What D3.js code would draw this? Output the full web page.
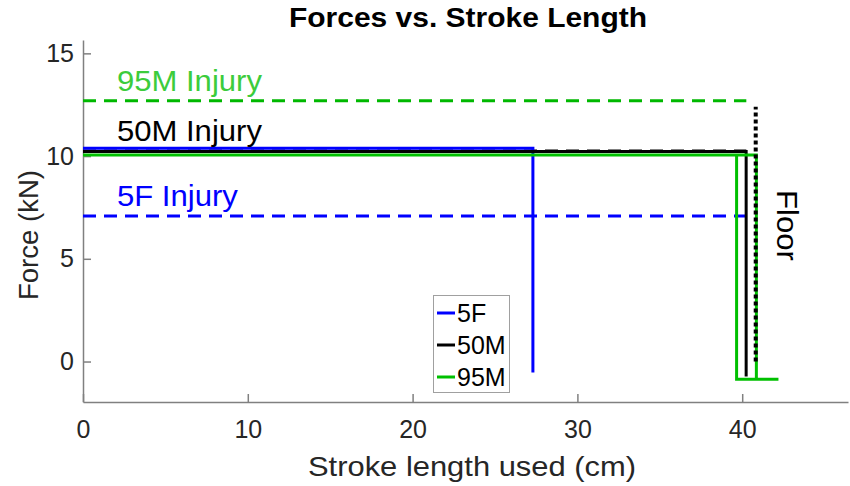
<!DOCTYPE html>
<html>
<head>
<meta charset="utf-8">
<script src="https://cdn.jsdelivr.net/npm/d3@7"></script>
<style>
  body { margin: 0; background: #fff; }
  text { font-family: "Liberation Sans", Arial, sans-serif; }
</style>
</head>
<body>
<svg id="chart" width="850" height="486"></svg>
<script>
// values (x = stroke used in cm, y = force in kN)
const seriesNames = ['5F', '50M', '95M'];
const seriesColors = ['#0000ff', '#000000', '#00c000'];
const force5F = [[0, 10.38], [27.3, 10.38], [27.3, -0.54]];
const force50M = [[0, 10.22], [40.24, 10.22], [40.24, -0.73]];
const force95M = [[0, 10.05], [40.86, 10.05], [40.86, -0.86], [42.2, -0.86], [39.66, -0.86], [39.66, 10.05]];

const injuryNames = ['95M Injury', '50M Injury', '5F Injury'];
const injuryLevels = [12.69, 10.25, 7.08];
const injuryLineColors = ['#00b800', '#000000', '#0000ff'];
const injuryTextColors = ['#3ccc3c', '#000000', '#0000ff'];
const injuryEnd = 40.25;

const floorX = 40.82;
const floorTop = 12.4;

const xTicks = [0, 10, 20, 30, 40];
const yTicks = [0, 5, 10, 15];
const xDomain = [0, 46.42];
const yDomain = [-1.97, 15.65];

const width = 850, height = 486;
const margin = {top: 40, right: 2, bottom: 84, left: 83};

const svg = d3.select('#chart');

const x = d3.scaleLinear().domain(xDomain).range([margin.left, width - margin.right]);
const y = d3.scaleLinear().domain(yDomain).range([height - margin.bottom, margin.top]);

const line = d3.line().x((d) => x(d[0])).y((d) => y(d[1]));

// text in the original renders a bit wider than liberation sans, so stretch it
function fit(sel, len) {
  return sel.attr('textLength', len).attr('lengthAdjust', 'spacingAndGlyphs');
}

// axes, ticks point inward like matlab
const xAxis = svg.append('g')
  .attr('transform', `translate(0,${y(yDomain[0])})`)
  .call(d3.axisBottom(x).tickValues(xTicks).tickSizeInner(-8).tickSizeOuter(0).tickPadding(18));
const yAxis = svg.append('g')
  .attr('transform', `translate(${x(xDomain[0])},0)`)
  .call(d3.axisLeft(y).tickValues(yTicks).tickSizeInner(-8).tickSizeOuter(0).tickPadding(9));

[xAxis, yAxis].forEach(function(g) {
  g.select('.domain').attr('stroke', '#808080').attr('stroke-width', 1.5);
  g.selectAll('.tick line').attr('stroke', '#808080').attr('stroke-width', 1.5);
  g.selectAll('.tick text').attr('fill', '#262626').style('font-size', '25px');
});
xAxis.selectAll('.tick text').attr('dy', '0.71em');

// injury thresholds
injuryNames.forEach(function(name, i) {
  svg.append('path')
    .datum([[0, injuryLevels[i]], [injuryEnd, injuryLevels[i]]])
    .attr('d', line)
    .attr('fill', 'none')
    .attr('stroke', injuryLineColors[i])
    .attr('stroke-width', 3)
    .attr('stroke-dasharray', '13,8');
});

// force curves
[force5F, force50M, force95M].forEach(function(data, i) {
  svg.append('path')
    .datum(data)
    .attr('d', line)
    .attr('fill', 'none')
    .attr('stroke', seriesColors[i])
    .attr('stroke-width', 3);
});

// floor
svg.append('path')
  .datum([[floorX, 0], [floorX, floorTop]])
  .attr('d', line)
  .attr('fill', 'none')
  .attr('stroke', '#000')
  .attr('stroke-width', 4)
  .attr('stroke-dasharray', '4,3');

fit(svg.append('text')
  .attr('transform', 'translate(777,190) rotate(90)')
  .style('font-size', '30px')
  .text('Floor'), 71);

// injury labels
const injuryWidths = [145, 145, 121];
injuryNames.forEach(function(name, i) {
  fit(svg.append('text')
    .attr('x', x(2.06))
    .attr('y', y(injuryLevels[i] + 0.5))
    .attr('fill', injuryTextColors[i])
    .style('font-size', '30px')
    .text(name), injuryWidths[i]);
});

// legend
const legend = svg.append('g');
legend.append('rect')
  .attr('x', 433.5).attr('y', 295.5)
  .attr('width', 76).attr('height', 97)
  .attr('fill', '#fff')
  .attr('stroke', '#a0a0a0');
seriesNames.forEach(function(name, i) {
  const cy = 313 + i * 32;
  legend.append('line')
    .attr('x1', 437).attr('x2', 455)
    .attr('y1', cy).attr('y2', cy)
    .attr('stroke', seriesColors[i])
    .attr('stroke-width', 3);
  legend.append('text')
    .attr('x', 457).attr('y', cy)
    .attr('dy', '0.36em')
    .style('font-size', '25px')
    .attr('fill', '#000')
    .text(name);
});

// title and axis labels
fit(svg.append('text')
  .attr('x', 468).attr('y', 27)
  .attr('text-anchor', 'middle')
  .style('font-size', '28px')
  .style('font-weight', 'bold')
  .text('Forces vs. Stroke Length'), 358);

fit(svg.append('text')
  .attr('x', 472).attr('y', 476)
  .attr('text-anchor', 'middle')
  .attr('fill', '#262626')
  .style('font-size', '28px')
  .text('Stroke length used (cm)'), 328);

fit(svg.append('text')
  .attr('transform', 'translate(38,235) rotate(-90)')
  .attr('text-anchor', 'middle')
  .attr('fill', '#262626')
  .style('font-size', '28px')
  .text('Force (kN)'), 130);
</script>
</body>
</html>
